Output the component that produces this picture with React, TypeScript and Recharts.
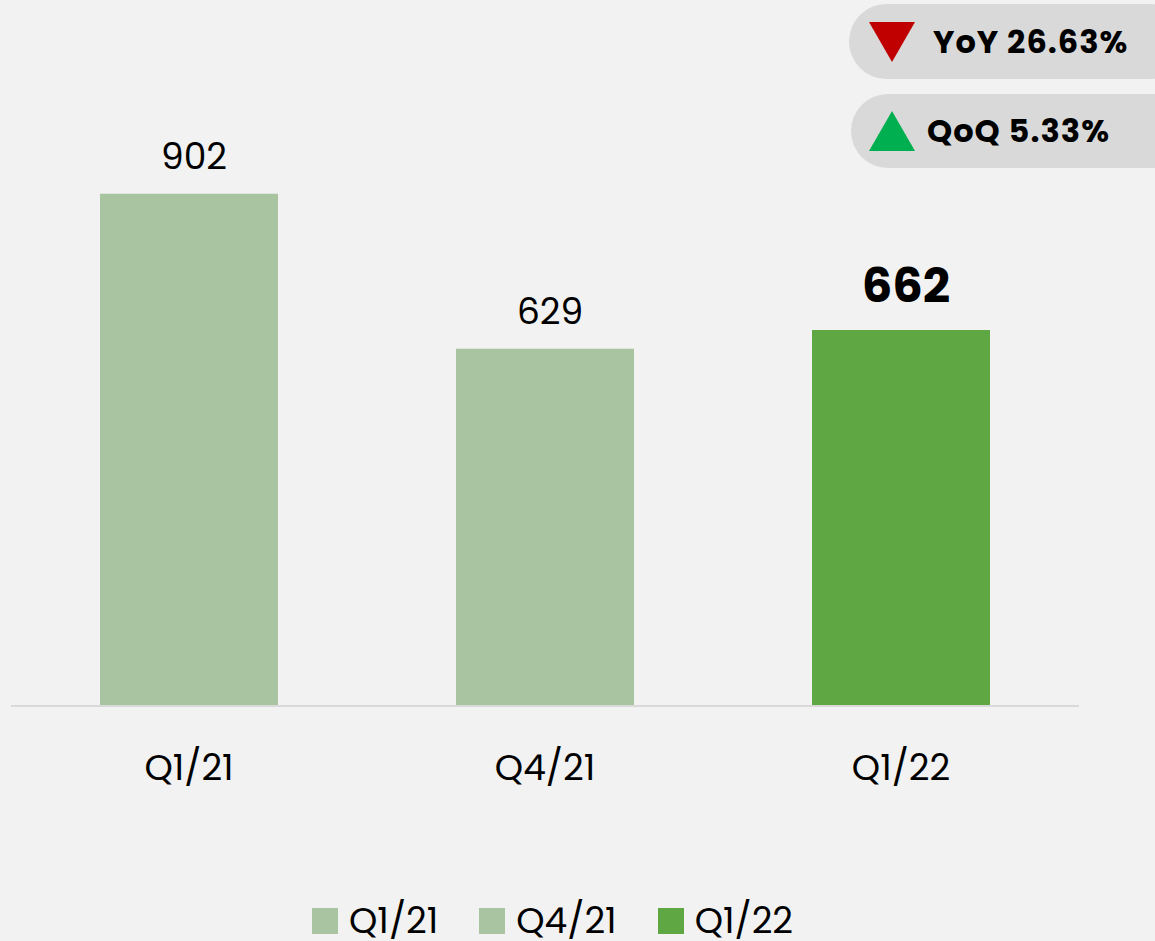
import { Bar, BarChart, Cell, LabelList, XAxis, YAxis } from "recharts";

const categories = ["Q1/21", "Q4/21", "Q1/22"];
const values = [902, 629, 662];
const highlighted = [false, false, true];

const badgeLabels = ["YoY 26.63%", "QoQ 5.33%"];
const badgeDirections = ["down", "up"];

const LIGHT = "#a9c4a0";
const DARK = "#5ea742";
const FONT = "Poppins, 'Open Sans', sans-serif";

const data = categories.map((name, i) => ({ name, value: values[i], hl: highlighted[i] }));

function ValueLabel(props: any) {
  const { x, y, width, value, index } = props;
  const hl = highlighted[index];
  return (
    <text
      x={x + width / 2 + 5}
      y={y - (hl ? 28 : 25)}
      textAnchor="middle"
      fontFamily={FONT}
      fontSize={hl ? 48 : 36}
      fontWeight={hl ? 700 : 400}
      fill="#000"
    >
      {value}
    </text>
  );
}

// badge geometry, top-right corner
const badgeBox = [
  { left: 849, top: 4, height: 75, textLeft: 933 },
  { left: 851, top: 94, height: 74, textLeft: 927 },
];

function Badges() {
  return (
    <>
      {badgeLabels.map((label, i) => {
        const b = badgeBox[i];
        const down = badgeDirections[i] === "down";
        return (
          <div
            key={label}
            style={{
              position: "absolute",
              left: b.left,
              top: b.top,
              width: 340,
              height: b.height,
              borderRadius: b.height / 2,
              background: "#d9d9d9",
            }}
          >
            <svg
              width={46}
              height={40}
              style={{ position: "absolute", left: 869 - b.left, top: (b.height - 40) / 2 }}
            >
              <polygon
                points={down ? "0,0 46,0 23,40" : "23,0 46,40 0,40"}
                fill={down ? "#c00000" : "#00b050"}
              />
            </svg>
            <div
              style={{
                position: "absolute",
                left: b.textLeft - b.left,
                top: 0,
                height: b.height,
                lineHeight: `${b.height}px`,
                fontFamily: FONT,
                fontWeight: 700,
                fontSize: 32,
                letterSpacing: 1,
                color: "#000",
                whiteSpace: "nowrap",
              }}
            >
              {label}
            </div>
          </div>
        );
      })}
    </>
  );
}

function LegendRow() {
  return (
    <div
      style={{
        position: "absolute",
        left: 312,
        top: 898,
        height: 46,
        display: "flex",
        alignItems: "center",
        gap: 41,
        fontFamily: FONT,
        fontSize: 36,
        lineHeight: "40px",
        color: "#000",
      }}
    >
      {categories.map((c, i) => (
        <div key={c} style={{ display: "flex", alignItems: "center", gap: 11 }}>
          <span
            style={{
              width: 26,
              height: 26,
              background: highlighted[i] ? DARK : LIGHT,
              display: "inline-block",
            }}
          />
          <span>{c}</span>
        </div>
      ))}
    </div>
  );
}

export default function App() {
  return (
    <div
      style={{
        position: "relative",
        width: 1155,
        height: 941,
        background: "#f2f2f2",
        overflow: "hidden",
      }}
    >
      <style>{"body{margin:0;background:#f2f2f2}"}</style>
      <BarChart
        width={1155}
        height={941}
        data={data}
        margin={{ top: 138, right: 76, left: 11, bottom: 0 }}
        barCategoryGap="25%"
      >
        <XAxis
          dataKey="name"
          height={235}
          axisLine={{ stroke: "#d9d9d9", strokeWidth: 2 }}
          tickLine={false}
          tickMargin={42}
          tick={{ fontSize: 36, fill: "#000", fontFamily: FONT }}
        />
        <YAxis hide domain={[0, 1000]} />
        <Bar dataKey="value" isAnimationActive={false}>
          {data.map((d) => (
            <Cell key={d.name} fill={d.hl ? DARK : LIGHT} />
          ))}
          <LabelList dataKey="value" content={<ValueLabel />} />
        </Bar>
      </BarChart>
      <Badges />
      <LegendRow />
    </div>
  );
}
